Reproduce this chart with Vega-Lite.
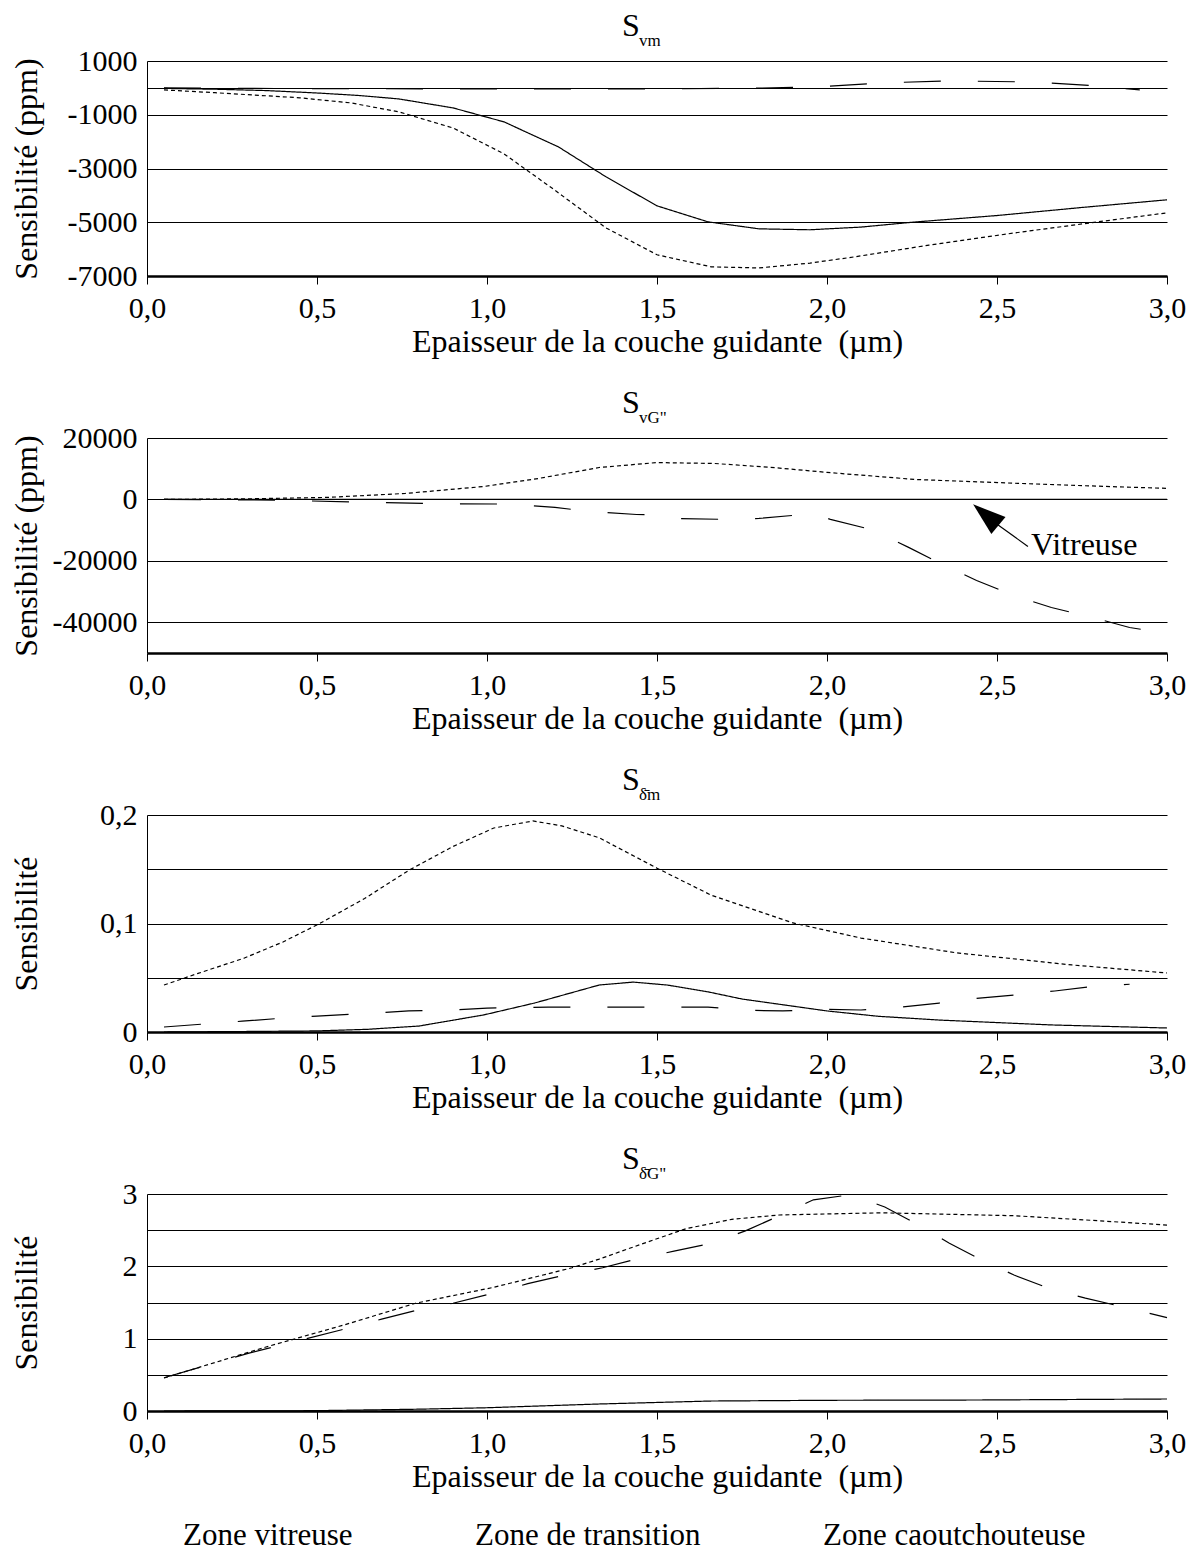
{
  "$schema": "https://vega.github.io/schema/vega-lite/v6.json",
  "background": "white",
  "padding": {"left": 10, "top": 10, "right": 5, "bottom": 5},
  "spacing": 30,
  "config": {
    "font": "Liberation Serif",
    "locale": {"number": {"decimal": ",", "thousands": "", "grouping": [3], "currency": ["", ""], "minus": "-"}},
    "view": {"stroke": null},
    "axis": {
      "labelFont": "Liberation Serif", "titleFont": "Liberation Serif",
      "labelFontSize": 30, "titleFontSize": 32, "titleFontWeight": "normal",
      "labelColor": "black", "titleColor": "black",
      "domainColor": "black", "tickColor": "black", "gridColor": "black", "gridOpacity": 1
    },
    "axisX": {"grid": false, "domainWidth": 2.5, "tickSize": 8, "tickWidth": 1, "labelPadding": 9, "titlePadding": 3, "labelFlush": false},
    "axisY": {"ticks": false, "domainWidth": 1, "gridWidth": 1.2, "labelPadding": 10, "titleX": -104},
    "title": {
      "font": "Liberation Serif", "fontSize": 32, "fontWeight": "normal", "color": "black",
      "subtitleFont": "Liberation Serif", "subtitleFontSize": 17, "subtitleColor": "black",
      "anchor": "start", "frame": "group", "dx": 475, "subtitlePadding": -10, "offset": -4
    },
    "legend": {
      "orient": "bottom", "direction": "horizontal", "symbolType": "stroke", "symbolSize": 1, "symbolStrokeWidth": 0, "symbolOpacity": 0,
      "labelOffset": 5, "labelFont": "Liberation Serif", "labelFontSize": 31, "labelColor": "black",
      "labelLimit": 400, "columnPadding": 86, "offset": 28,
      "layout": {"bottom": {"anchor": "start"}}
    }
  },
  "datasets": {
    "svm": [
      {"zone": "Zone vitreuse", "e": 0.05, "s": -20}, {"zone": "Zone vitreuse", "e": 0.2, "s": -50},
      {"zone": "Zone vitreuse", "e": 0.35, "s": -100}, {"zone": "Zone vitreuse", "e": 0.5, "s": -190},
      {"zone": "Zone vitreuse", "e": 0.62, "s": -280}, {"zone": "Zone vitreuse", "e": 0.74, "s": -410},
      {"zone": "Zone vitreuse", "e": 0.9, "s": -745}, {"zone": "Zone vitreuse", "e": 1.05, "s": -1265},
      {"zone": "Zone vitreuse", "e": 1.21, "s": -2195}, {"zone": "Zone vitreuse", "e": 1.35, "s": -3310},
      {"zone": "Zone vitreuse", "e": 1.5, "s": -4390}, {"zone": "Zone vitreuse", "e": 1.65, "s": -4985},
      {"zone": "Zone vitreuse", "e": 1.8, "s": -5245}, {"zone": "Zone vitreuse", "e": 1.95, "s": -5280},
      {"zone": "Zone vitreuse", "e": 2.1, "s": -5180}, {"zone": "Zone vitreuse", "e": 2.25, "s": -5000},
      {"zone": "Zone vitreuse", "e": 2.5, "s": -4750}, {"zone": "Zone vitreuse", "e": 2.75, "s": -4450},
      {"zone": "Zone vitreuse", "e": 3.0, "s": -4165},
      {"zone": "Zone de transition", "e": 0.05, "s": -75}, {"zone": "Zone de transition", "e": 0.2, "s": -180},
      {"zone": "Zone de transition", "e": 0.45, "s": -370}, {"zone": "Zone de transition", "e": 0.6, "s": -560},
      {"zone": "Zone de transition", "e": 0.74, "s": -890}, {"zone": "Zone de transition", "e": 0.9, "s": -1490},
      {"zone": "Zone de transition", "e": 1.05, "s": -2455}, {"zone": "Zone de transition", "e": 1.19, "s": -3720},
      {"zone": "Zone de transition", "e": 1.35, "s": -5210}, {"zone": "Zone de transition", "e": 1.5, "s": -6210},
      {"zone": "Zone de transition", "e": 1.66, "s": -6660}, {"zone": "Zone de transition", "e": 1.8, "s": -6700},
      {"zone": "Zone de transition", "e": 1.95, "s": -6520}, {"zone": "Zone de transition", "e": 2.08, "s": -6290},
      {"zone": "Zone de transition", "e": 2.3, "s": -5850}, {"zone": "Zone de transition", "e": 2.55, "s": -5400},
      {"zone": "Zone de transition", "e": 2.8, "s": -4980}, {"zone": "Zone de transition", "e": 3.0, "s": -4650},
      {"zone": "Zone caoutchouteuse", "e": 0.05, "s": 0}, {"zone": "Zone caoutchouteuse", "e": 0.3, "s": -20},
      {"zone": "Zone caoutchouteuse", "e": 0.6, "s": -30}, {"zone": "Zone caoutchouteuse", "e": 0.9, "s": -40},
      {"zone": "Zone caoutchouteuse", "e": 1.2, "s": -40}, {"zone": "Zone caoutchouteuse", "e": 1.5, "s": -40},
      {"zone": "Zone caoutchouteuse", "e": 1.8, "s": -10}, {"zone": "Zone caoutchouteuse", "e": 1.98, "s": 40},
      {"zone": "Zone caoutchouteuse", "e": 2.17, "s": 190}, {"zone": "Zone caoutchouteuse", "e": 2.37, "s": 260},
      {"zone": "Zone caoutchouteuse", "e": 2.6, "s": 220}, {"zone": "Zone caoutchouteuse", "e": 2.79, "s": 75},
      {"zone": "Zone caoutchouteuse", "e": 2.92, "s": -75}
    ],
    "svg": [
      {"zone": "Zone vitreuse", "e": 0.05, "s": 0}, {"zone": "Zone vitreuse", "e": 1.0, "s": 0},
      {"zone": "Zone vitreuse", "e": 2.0, "s": 0}, {"zone": "Zone vitreuse", "e": 3.0, "s": 0},
      {"zone": "Zone de transition", "e": 0.05, "s": 0}, {"zone": "Zone de transition", "e": 0.3, "s": 200},
      {"zone": "Zone de transition", "e": 0.53, "s": 650}, {"zone": "Zone de transition", "e": 0.76, "s": 1950},
      {"zone": "Zone de transition", "e": 0.99, "s": 4200}, {"zone": "Zone de transition", "e": 1.15, "s": 6800},
      {"zone": "Zone de transition", "e": 1.33, "s": 10400}, {"zone": "Zone de transition", "e": 1.5, "s": 12000},
      {"zone": "Zone de transition", "e": 1.67, "s": 11700}, {"zone": "Zone de transition", "e": 1.85, "s": 10300},
      {"zone": "Zone de transition", "e": 2.0, "s": 8800}, {"zone": "Zone de transition", "e": 2.26, "s": 6500},
      {"zone": "Zone de transition", "e": 2.57, "s": 5200}, {"zone": "Zone de transition", "e": 2.8, "s": 4300},
      {"zone": "Zone de transition", "e": 3.0, "s": 3600},
      {"zone": "Zone caoutchouteuse", "e": 0.05, "s": 0}, {"zone": "Zone caoutchouteuse", "e": 0.25, "s": -100},
      {"zone": "Zone caoutchouteuse", "e": 0.4, "s": -300}, {"zone": "Zone caoutchouteuse", "e": 0.6, "s": -800},
      {"zone": "Zone caoutchouteuse", "e": 0.85, "s": -1400}, {"zone": "Zone caoutchouteuse", "e": 1.05, "s": -1500},
      {"zone": "Zone caoutchouteuse", "e": 1.1, "s": -1800}, {"zone": "Zone caoutchouteuse", "e": 1.2, "s": -2600},
      {"zone": "Zone caoutchouteuse", "e": 1.3, "s": -3900}, {"zone": "Zone caoutchouteuse", "e": 1.44, "s": -4900},
      {"zone": "Zone caoutchouteuse", "e": 1.51, "s": -5000}, {"zone": "Zone caoutchouteuse", "e": 1.56, "s": -6200},
      {"zone": "Zone caoutchouteuse", "e": 1.7, "s": -6500}, {"zone": "Zone caoutchouteuse", "e": 1.8, "s": -6200},
      {"zone": "Zone caoutchouteuse", "e": 1.9, "s": -5200}, {"zone": "Zone caoutchouteuse", "e": 1.97, "s": -4900},
      {"zone": "Zone caoutchouteuse", "e": 2.01, "s": -6500}, {"zone": "Zone caoutchouteuse", "e": 2.13, "s": -9800},
      {"zone": "Zone caoutchouteuse", "e": 2.24, "s": -15600}, {"zone": "Zone caoutchouteuse", "e": 2.34, "s": -21200},
      {"zone": "Zone caoutchouteuse", "e": 2.44, "s": -26400}, {"zone": "Zone caoutchouteuse", "e": 2.55, "s": -31300},
      {"zone": "Zone caoutchouteuse", "e": 2.66, "s": -35200}, {"zone": "Zone caoutchouteuse", "e": 2.78, "s": -38400},
      {"zone": "Zone caoutchouteuse", "e": 2.89, "s": -41700}, {"zone": "Zone caoutchouteuse", "e": 3.0, "s": -43600}
    ],
    "sdm": [
      {"zone": "Zone vitreuse", "e": 0.05, "s": 0}, {"zone": "Zone vitreuse", "e": 0.3, "s": 0.0005},
      {"zone": "Zone vitreuse", "e": 0.5, "s": 0.001}, {"zone": "Zone vitreuse", "e": 0.65, "s": 0.0025},
      {"zone": "Zone vitreuse", "e": 0.8, "s": 0.0055}, {"zone": "Zone vitreuse", "e": 0.99, "s": 0.0157},
      {"zone": "Zone vitreuse", "e": 1.14, "s": 0.0267}, {"zone": "Zone vitreuse", "e": 1.33, "s": 0.0433},
      {"zone": "Zone vitreuse", "e": 1.43, "s": 0.046}, {"zone": "Zone vitreuse", "e": 1.53, "s": 0.0433},
      {"zone": "Zone vitreuse", "e": 1.65, "s": 0.037}, {"zone": "Zone vitreuse", "e": 1.75, "s": 0.0304},
      {"zone": "Zone vitreuse", "e": 2.0, "s": 0.0194}, {"zone": "Zone vitreuse", "e": 2.15, "s": 0.0145},
      {"zone": "Zone vitreuse", "e": 2.33, "s": 0.011}, {"zone": "Zone vitreuse", "e": 2.66, "s": 0.0065},
      {"zone": "Zone vitreuse", "e": 3.0, "s": 0.0037},
      {"zone": "Zone de transition", "e": 0.05, "s": 0.0433}, {"zone": "Zone de transition", "e": 0.15, "s": 0.054},
      {"zone": "Zone de transition", "e": 0.285, "s": 0.068}, {"zone": "Zone de transition", "e": 0.4, "s": 0.083},
      {"zone": "Zone de transition", "e": 0.505, "s": 0.0995}, {"zone": "Zone de transition", "e": 0.64, "s": 0.123},
      {"zone": "Zone de transition", "e": 0.77, "s": 0.149}, {"zone": "Zone de transition", "e": 0.9, "s": 0.171},
      {"zone": "Zone de transition", "e": 1.02, "s": 0.188}, {"zone": "Zone de transition", "e": 1.135, "s": 0.1945},
      {"zone": "Zone de transition", "e": 1.22, "s": 0.19}, {"zone": "Zone de transition", "e": 1.33, "s": 0.179},
      {"zone": "Zone de transition", "e": 1.5, "s": 0.151}, {"zone": "Zone de transition", "e": 1.66, "s": 0.126},
      {"zone": "Zone de transition", "e": 1.9, "s": 0.1005}, {"zone": "Zone de transition", "e": 2.1, "s": 0.0866},
      {"zone": "Zone de transition", "e": 2.38, "s": 0.073}, {"zone": "Zone de transition", "e": 2.72, "s": 0.0618},
      {"zone": "Zone de transition", "e": 3.0, "s": 0.0544},
      {"zone": "Zone caoutchouteuse", "e": 0.05, "s": 0.0046}, {"zone": "Zone caoutchouteuse", "e": 0.17, "s": 0.0074},
      {"zone": "Zone caoutchouteuse", "e": 0.28, "s": 0.01}, {"zone": "Zone caoutchouteuse", "e": 0.41, "s": 0.013},
      {"zone": "Zone caoutchouteuse", "e": 0.5, "s": 0.0147}, {"zone": "Zone caoutchouteuse", "e": 0.62, "s": 0.0166},
      {"zone": "Zone caoutchouteuse", "e": 0.77, "s": 0.0194}, {"zone": "Zone caoutchouteuse", "e": 0.9, "s": 0.0203},
      {"zone": "Zone caoutchouteuse", "e": 1.0, "s": 0.022}, {"zone": "Zone caoutchouteuse", "e": 1.18, "s": 0.023},
      {"zone": "Zone caoutchouteuse", "e": 1.31, "s": 0.023}, {"zone": "Zone caoutchouteuse", "e": 1.53, "s": 0.023},
      {"zone": "Zone caoutchouteuse", "e": 1.65, "s": 0.023}, {"zone": "Zone caoutchouteuse", "e": 1.76, "s": 0.02},
      {"zone": "Zone caoutchouteuse", "e": 1.87, "s": 0.0194}, {"zone": "Zone caoutchouteuse", "e": 1.99, "s": 0.021},
      {"zone": "Zone caoutchouteuse", "e": 2.1, "s": 0.0203}, {"zone": "Zone caoutchouteuse", "e": 2.22, "s": 0.023},
      {"zone": "Zone caoutchouteuse", "e": 2.33, "s": 0.0267}, {"zone": "Zone caoutchouteuse", "e": 2.44, "s": 0.031},
      {"zone": "Zone caoutchouteuse", "e": 2.55, "s": 0.034}, {"zone": "Zone caoutchouteuse", "e": 2.67, "s": 0.0378},
      {"zone": "Zone caoutchouteuse", "e": 2.78, "s": 0.042}, {"zone": "Zone caoutchouteuse", "e": 2.89, "s": 0.044}
    ],
    "sdg": [
      {"zone": "Zone vitreuse", "e": 0.05, "s": 0}, {"zone": "Zone vitreuse", "e": 0.4, "s": 0.002},
      {"zone": "Zone vitreuse", "e": 0.5, "s": 0.005}, {"zone": "Zone vitreuse", "e": 0.8, "s": 0.025},
      {"zone": "Zone vitreuse", "e": 1.0, "s": 0.045}, {"zone": "Zone vitreuse", "e": 1.33, "s": 0.097},
      {"zone": "Zone vitreuse", "e": 1.66, "s": 0.138}, {"zone": "Zone vitreuse", "e": 2.0, "s": 0.148},
      {"zone": "Zone vitreuse", "e": 2.44, "s": 0.152}, {"zone": "Zone vitreuse", "e": 3.0, "s": 0.166},
      {"zone": "Zone de transition", "e": 0.05, "s": 0.456}, {"zone": "Zone de transition", "e": 0.35, "s": 0.885},
      {"zone": "Zone de transition", "e": 0.58, "s": 1.19}, {"zone": "Zone de transition", "e": 0.79, "s": 1.49},
      {"zone": "Zone de transition", "e": 1.02, "s": 1.71}, {"zone": "Zone de transition", "e": 1.25, "s": 1.98},
      {"zone": "Zone de transition", "e": 1.33, "s": 2.1}, {"zone": "Zone de transition", "e": 1.45, "s": 2.3},
      {"zone": "Zone de transition", "e": 1.585, "s": 2.52}, {"zone": "Zone de transition", "e": 1.72, "s": 2.65},
      {"zone": "Zone de transition", "e": 1.86, "s": 2.71}, {"zone": "Zone de transition", "e": 2.16, "s": 2.74},
      {"zone": "Zone de transition", "e": 2.55, "s": 2.7}, {"zone": "Zone de transition", "e": 2.8, "s": 2.63},
      {"zone": "Zone de transition", "e": 3.0, "s": 2.57},
      {"zone": "Zone caoutchouteuse", "e": 0.05, "s": 0.46}, {"zone": "Zone caoutchouteuse", "e": 0.3, "s": 0.8},
      {"zone": "Zone caoutchouteuse", "e": 0.57, "s": 1.12}, {"zone": "Zone caoutchouteuse", "e": 0.69, "s": 1.27},
      {"zone": "Zone caoutchouteuse", "e": 0.8, "s": 1.4}, {"zone": "Zone caoutchouteuse", "e": 0.9, "s": 1.49},
      {"zone": "Zone caoutchouteuse", "e": 1.01, "s": 1.62}, {"zone": "Zone caoutchouteuse", "e": 1.12, "s": 1.76},
      {"zone": "Zone caoutchouteuse", "e": 1.22, "s": 1.87}, {"zone": "Zone caoutchouteuse", "e": 1.34, "s": 1.98},
      {"zone": "Zone caoutchouteuse", "e": 1.44, "s": 2.1}, {"zone": "Zone caoutchouteuse", "e": 1.55, "s": 2.21},
      {"zone": "Zone caoutchouteuse", "e": 1.66, "s": 2.32}, {"zone": "Zone caoutchouteuse", "e": 1.76, "s": 2.49},
      {"zone": "Zone caoutchouteuse", "e": 1.86, "s": 2.7}, {"zone": "Zone caoutchouteuse", "e": 1.96, "s": 2.92},
      {"zone": "Zone caoutchouteuse", "e": 2.07, "s": 2.99}, {"zone": "Zone caoutchouteuse", "e": 2.17, "s": 2.82},
      {"zone": "Zone caoutchouteuse", "e": 2.27, "s": 2.57}, {"zone": "Zone caoutchouteuse", "e": 2.36, "s": 2.32},
      {"zone": "Zone caoutchouteuse", "e": 2.45, "s": 2.1}, {"zone": "Zone caoutchouteuse", "e": 2.55, "s": 1.88},
      {"zone": "Zone caoutchouteuse", "e": 2.65, "s": 1.7}, {"zone": "Zone caoutchouteuse", "e": 2.76, "s": 1.56},
      {"zone": "Zone caoutchouteuse", "e": 2.87, "s": 1.44}, {"zone": "Zone caoutchouteuse", "e": 3.0, "s": 1.29}
    ]
  },
  "vconcat": [
    {
      "title": {"text": "S", "subtitle": "\u200b\u00a0\u00a0\u00a0\u00a0vm"},
      "width": 1020, "height": 215,
      "data": {"name": "svm"},
      "mark": {"type": "line", "strokeWidth": 1.2, "color": "black"},
      "encoding": {
        "x": {"field": "e", "type": "quantitative", "scale": {"domain": [0, 3]},
              "axis": {"title": "Epaisseur de la couche guidante \u00a0(µm)", "values": [0, 0.5, 1, 1.5, 2, 2.5, 3], "format": ".1f"}},
        "y": {"field": "s", "type": "quantitative", "scale": {"domain": [-7000, 1000]},
              "axis": {"title": "Sensibilité (ppm)", "values": [1000, 0, -1000, -3000, -5000, -7000], "format": "d",
                       "labelExpr": "datum.value == 0 ? '' : datum.label"}},
        "strokeDash": {"field": "zone", "type": "nominal",
                       "scale": {"domain": ["Zone vitreuse", "Zone de transition", "Zone caoutchouteuse"], "range": [[1, 0], [4, 3], [37, 37]]},
                       "legend": {"title": null}}
      }
    },
    {
      "title": {"text": "S", "subtitle": "\u200b\u00a0\u00a0\u00a0\u00a0vG\""},
      "width": 1020, "height": 215,
      "layer": [
        {
          "data": {"name": "svg"},
          "mark": {"type": "line", "strokeWidth": 1.2, "color": "black"},
          "encoding": {
            "x": {"field": "e", "type": "quantitative", "scale": {"domain": [0, 3]},
                  "axis": {"title": "Epaisseur de la couche guidante \u00a0(µm)", "values": [0, 0.5, 1, 1.5, 2, 2.5, 3], "format": ".1f"}},
            "y": {"field": "s", "type": "quantitative", "scale": {"domain": [-50000, 20000]},
                  "axis": {"title": "Sensibilité (ppm)", "values": [20000, 0, -20000, -40000], "format": "d"}},
            "strokeDash": {"field": "zone", "type": "nominal",
                           "scale": {"domain": ["Zone vitreuse", "Zone de transition", "Zone caoutchouteuse"], "range": [[1, 0], [4, 3], [37, 37]]},
                           "legend": {"title": null}}
          }
        },
        {
          "data": {"values": [{"e": 2.591, "s": -15300, "e2": 2.49, "s2": -7300}]},
          "mark": {"type": "rule", "color": "black", "strokeWidth": 1.2},
          "encoding": {
            "x": {"field": "e", "type": "quantitative"},
            "y": {"field": "s", "type": "quantitative"},
            "x2": {"field": "e2"},
            "y2": {"field": "s2"}
          }
        },
        {
          "data": {"values": [{"e": 2.467, "s": -5050}]},
          "mark": {"type": "point", "shape": "M0,-1L0.667,1L-0.667,1Z", "filled": true, "color": "black", "opacity": 1, "size": 1089, "angle": -50},
          "encoding": {
            "x": {"field": "e", "type": "quantitative"},
            "y": {"field": "s", "type": "quantitative"}
          }
        },
        {
          "data": {"values": [{"e": 2.6, "s": -14850, "label": "Vitreuse"}]},
          "mark": {"type": "text", "align": "left", "baseline": "middle", "font": "Liberation Serif", "fontSize": 32, "color": "black"},
          "encoding": {
            "x": {"field": "e", "type": "quantitative"},
            "y": {"field": "s", "type": "quantitative"},
            "text": {"field": "label"}
          }
        }
      ]
    },
    {
      "title": {"text": "S", "subtitle": "\u200b\u00a0\u00a0\u00a0\u00a0\u03b4\u0304m"},
      "width": 1020, "height": 217,
      "data": {"name": "sdm"},
      "mark": {"type": "line", "strokeWidth": 1.2, "color": "black"},
      "encoding": {
        "x": {"field": "e", "type": "quantitative", "scale": {"domain": [0, 3]},
              "axis": {"title": "Epaisseur de la couche guidante \u00a0(µm)", "values": [0, 0.5, 1, 1.5, 2, 2.5, 3], "format": ".1f"}},
        "y": {"field": "s", "type": "quantitative", "scale": {"domain": [0, 0.2]},
              "axis": {"title": "Sensibilité", "values": [0, 0.05, 0.1, 0.15, 0.2],
                       "labelExpr": "datum.value == 0 ? '0' : (abs(datum.value - 0.1) < 0.001 ? '0,1' : (abs(datum.value - 0.2) < 0.001 ? '0,2' : ''))"}},
        "strokeDash": {"field": "zone", "type": "nominal",
                       "scale": {"domain": ["Zone vitreuse", "Zone de transition", "Zone caoutchouteuse"], "range": [[1, 0], [4, 3], [37, 37]]},
                       "legend": {"title": null}}
      }
    },
    {
      "title": {"text": "S", "subtitle": "\u200b\u00a0\u00a0\u00a0\u00a0\u03b4\u0304G\""},
      "width": 1020, "height": 217,
      "data": {"name": "sdg"},
      "mark": {"type": "line", "strokeWidth": 1.2, "color": "black"},
      "encoding": {
        "x": {"field": "e", "type": "quantitative", "scale": {"domain": [0, 3]},
              "axis": {"title": "Epaisseur de la couche guidante \u00a0(µm)", "values": [0, 0.5, 1, 1.5, 2, 2.5, 3], "format": ".1f"}},
        "y": {"field": "s", "type": "quantitative", "scale": {"domain": [0, 3]},
              "axis": {"title": "Sensibilité", "values": [0, 0.5, 1, 1.5, 2, 2.5, 3],
                       "labelExpr": "datum.value % 1 == 0 ? format(datum.value, 'd') : ''"}},
        "strokeDash": {"field": "zone", "type": "nominal",
                       "scale": {"domain": ["Zone vitreuse", "Zone de transition", "Zone caoutchouteuse"], "range": [[1, 0], [4, 3], [37, 37]]},
                       "legend": {"title": null}}
      }
    }
  ]
}
